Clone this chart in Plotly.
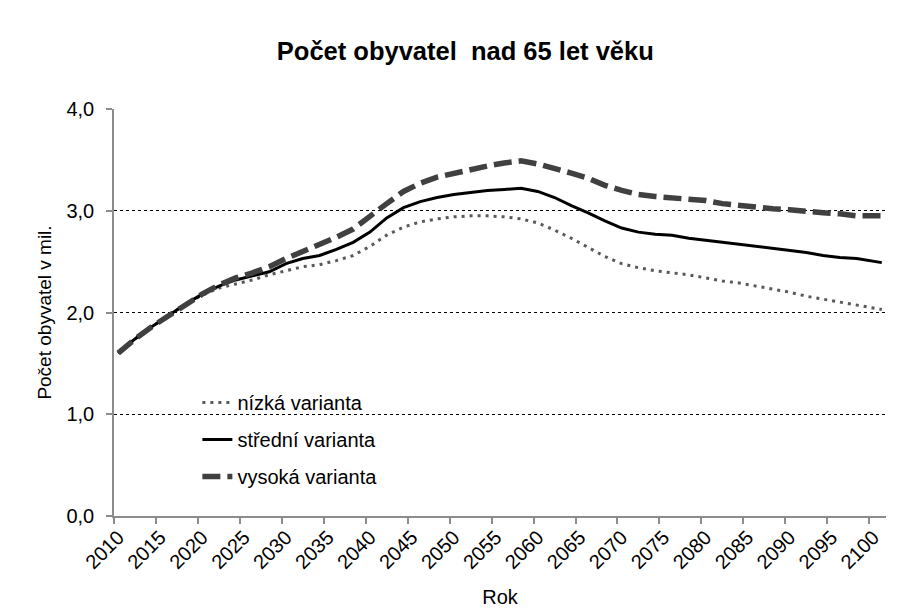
import plotly.graph_objects as go

years = [2010, 2012, 2014, 2016, 2018, 2020, 2022, 2024, 2026, 2028, 2030, 2032, 2034, 2036,
         2038, 2040, 2042, 2044, 2046, 2048, 2050, 2052, 2054, 2056, 2058, 2060, 2062, 2064,
         2066, 2068, 2070, 2072, 2074, 2076, 2078, 2080, 2082, 2084, 2086, 2088, 2090, 2092,
         2094, 2096, 2098, 2100, 2101]

nizka = [1.60, 1.74, 1.86, 1.97, 2.08, 2.17, 2.24, 2.28, 2.32, 2.37, 2.41, 2.45, 2.47, 2.51,
         2.56, 2.65, 2.76, 2.84, 2.89, 2.92, 2.94, 2.95, 2.95, 2.94, 2.92, 2.88, 2.81, 2.73,
         2.64, 2.55, 2.48, 2.44, 2.41, 2.39, 2.37, 2.34, 2.31, 2.29, 2.26, 2.23, 2.20, 2.16,
         2.13, 2.10, 2.07, 2.04, 2.03]

stredni = [1.60, 1.74, 1.86, 1.97, 2.08, 2.18, 2.26, 2.32, 2.36, 2.40, 2.48, 2.53, 2.56, 2.62,
           2.69, 2.79, 2.93, 3.03, 3.09, 3.13, 3.16, 3.18, 3.20, 3.21, 3.22, 3.19, 3.13, 3.05,
           2.98, 2.90, 2.83, 2.79, 2.77, 2.76, 2.73, 2.71, 2.69, 2.67, 2.65, 2.63, 2.61, 2.59,
           2.56, 2.54, 2.53, 2.50, 2.49]

vysoka = [1.60, 1.74, 1.86, 1.97, 2.08, 2.18, 2.27, 2.34, 2.39, 2.45, 2.53, 2.60, 2.66, 2.74,
          2.82, 2.95, 3.07, 3.19, 3.27, 3.33, 3.37, 3.41, 3.44, 3.47, 3.49, 3.46, 3.42, 3.37,
          3.32, 3.25, 3.20, 3.16, 3.14, 3.13, 3.12, 3.10, 3.07, 3.05, 3.03, 3.02, 3.01, 2.99,
          2.98, 2.97, 2.95, 2.95, 2.95]

tick_years = list(range(2010, 2101, 5))
tick_labels = [str(y) for y in tick_years]
y_ticks = [0, 1, 2, 3, 4]

FONT = "Liberation Sans, Arial, sans-serif"

fig = go.Figure()
fig.add_trace(go.Scatter(x=years, y=nizka, mode="lines", name="nízká varianta",
                         legendgroup="a",
                         line=dict(color="#595959", width=3, dash="3px,5px")))
fig.add_trace(go.Scatter(x=years, y=stredni, mode="lines", name="střední varianta",
                         legendgroup="b",
                         line=dict(color="#000000", width=3)))
fig.add_trace(go.Scatter(x=years, y=vysoka, mode="lines", name="vysoká varianta",
                         legendgroup="c",
                         line=dict(color="#404040", width=5.5, dash="18px,7px")))

fig.update_layout(
    width=907, height=610,
    paper_bgcolor="white", plot_bgcolor="white",
    margin=dict(l=114, r=21, t=109, b=94),
    separators=", ",
    font=dict(family=FONT, color="#000000", size=20),
    title=dict(text="<b>Počet obyvatel\u00a0 nad 65 let věku</b>", x=0.513, xanchor="center",
               y=1 - 51 / 610, yanchor="middle",
               font=dict(family=FONT, size=25.5, color="#000000")),
    showlegend=True,
    legend=dict(x=0.108, y=0.327, xanchor="left", yanchor="top",
                bgcolor="rgba(0,0,0,0)", font=dict(size=20, family=FONT),
                tracegroupgap=8, itemwidth=30),
)

fig.update_xaxes(
    range=[2009.5, 2101.5], automargin=False,
    tickmode="array", tickvals=tick_years, ticktext=tick_labels,
    tickangle=-45, ticks="", showgrid=False, zeroline=False,
    showline=True, linecolor="#8c8c8c", linewidth=1.5,
    minor=dict(tick0=2009.5, dtick=5, ticks="outside", ticklen=6,
               tickcolor="#8c8c8c", tickwidth=1.5, showgrid=False),
    tickfont=dict(size=20, family=FONT),
    title=dict(text="Rok", standoff=18, font=dict(size=20, family=FONT)),
)

fig.update_yaxes(
    range=[0, 4], automargin=False,
    tickmode="array", tickvals=y_ticks, tickformat=".1f",
    ticks="outside", ticklen=6, tickcolor="#8c8c8c", tickwidth=1.5,
    showline=True, linecolor="#8c8c8c", linewidth=1.5,
    showgrid=True, gridcolor="#000000", gridwidth=1, griddash="dot",
    zeroline=False,
    tickfont=dict(size=20, family=FONT),
    ticklabelstandoff=8,
    title=dict(text="Počet obyvatel v mil.", standoff=10, font=dict(size=19, family=FONT)),
)

fig.write_html("out.html", config={"displayModeBar": False},
               post_script="document.body.style.margin='0px';")
